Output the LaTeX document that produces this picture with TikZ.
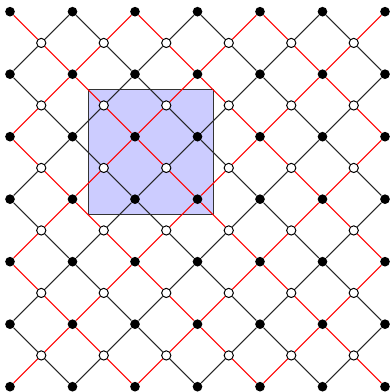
\documentclass[tikz,border=0pt]{standalone}
\usepackage{tikz}
\tikzset{
  blackdot/.style={circle,fill=black,inner sep=0pt,minimum size=4.4pt},
  whitedot/.style={circle,draw=black,fill=white,line width=0.45pt,inner sep=0pt,minimum size=4.2pt},
  edge/.style={line width=0.45pt},
  cell/.style={draw=black!80,fill=blue!20,line width=0.5pt},
}

\begin{document}
\begin{tikzpicture}
  \useasboundingbox (-0.16,-0.085) rectangle (6.064,6.187);
  \draw[cell] (1.25,2.75) rectangle (3.25,4.75);
  \foreach \i in {0,...,6}
    \foreach \j in {0,...,6}
      \node[blackdot] (b-\i-\j) at (\i,6-\j) {};
  \foreach \a in {0,...,5}
    \foreach \b in {0,...,5}
      \node[whitedot] (w-\a-\b) at (\a+0.5,5.5-\b) {};
  \foreach \a in {0,...,5}
    \foreach \b in {0,...,5}{
      \pgfmathtruncatemacro\na{\a+1}
      \pgfmathtruncatemacro\nb{\b+1}
      \pgfmathtruncatemacro\p{mod(\a+\b,2)}
      \ifnum\p=0 \def\ca{red}\def\cb{black!85}\else\def\ca{black!85}\def\cb{red}\fi
      \draw[edge,\ca] (w-\a-\b) -- (b-\a-\b);
      \draw[edge,\ca] (w-\a-\b) -- (b-\na-\nb);
      \draw[edge,\cb] (w-\a-\b) -- (b-\na-\b);
      \draw[edge,\cb] (w-\a-\b) -- (b-\a-\nb);
    }
\end{tikzpicture}
\end{document}
